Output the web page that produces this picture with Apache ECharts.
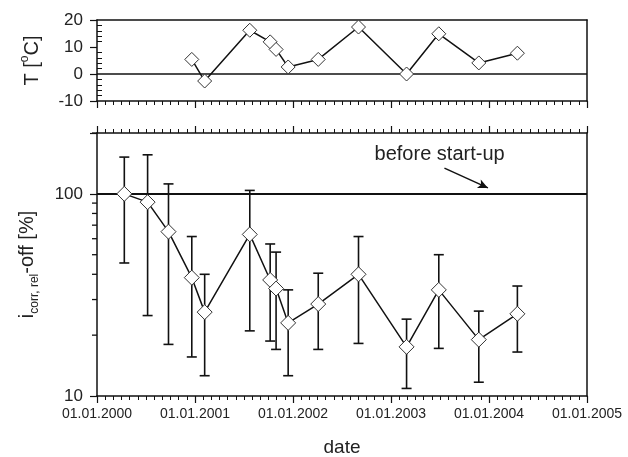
<!DOCTYPE html>
<html><head><meta charset="utf-8">
<script src="https://cdn.jsdelivr.net/npm/echarts@6/dist/echarts.min.js"></script>
<style>html,body{margin:0;padding:0;background:#fff}#c{width:628px;height:457px}</style>
</head><body><div id="c"></div>
<script>
// ---- data ----
const dates = ['2000-04-12','2000-07-08','2000-09-24','2000-12-20','2001-02-06','2001-07-24','2001-10-08','2001-10-30','2001-12-14','2002-04-05','2002-09-02','2003-02-28','2003-06-28','2003-11-24','2004-04-16'];
const icorr     = [100, 91, 65, 38.5, 26, 63, 37.5, 34, 23, 28.5, 40, 17.5, 33.5, 19, 25.5];
const icorrHigh = [152, 156, 112, 61.5, 40, 104, 56.5, 51.5, 33.5, 40.5, 61.5, 24, 50, 26.3, 35];
const icorrLow  = [45.5, 25, 18, 15.6, 12.6, 21, 18.7, 17, 12.6, 17, 18.2, 10.9, 17.2, 11.7, 16.5];
const tempDates = ['2000-12-20','2001-02-06','2001-07-24','2001-10-08','2001-10-30','2001-12-14','2002-04-05','2002-09-02','2003-02-28','2003-06-28','2003-11-24','2004-04-16'];
const temps     = [5.4, -2.6, 16.2, 11.9, 9.1, 2.6, 5.4, 17.4, 0, 14.9, 4.1, 7.7];
const yearTicks = [2000, 2001, 2002, 2003, 2004, 2005];
const tTicks = [-10, 0, 10, 20];
const iTicksMajor = [10, 100];
const iTicksMinor = [20, 30, 40, 50, 60, 70, 80, 90, 200];
const referenceLevel = 100;
const noteText = 'before start-up';
const noteAt = ['2003-07-01', 156];
const arrowFrom = ['2003-07-19', 134];
const arrowTo = ['2003-12-28', 107];

function decYear(s){
  const [y,m,d] = s.split('-').map(Number);
  const t0 = Date.UTC(y,0,1), t1 = Date.UTC(y+1,0,1);
  return y + (Date.UTC(y,m-1,d) - t0) / (t1 - t0);
}

const INK = '#111';
const FONT = 'Liberation Sans, Arial, sans-serif';
const chart = echarts.init(document.getElementById('c'), null, {renderer:'canvas'});

const xMin = yearTicks[0], xMax = yearTicks[yearTicks.length-1];
const iMin = 10, iMax = 200;
const lineAx = {show:true, onZero:false, lineStyle:{color:INK, width:1.5}};

const xBase = (grid, pos) => ({
  gridIndex: grid, type:'value', position: pos, min:xMin, max:xMax, interval:1,
  axisLine: lineAx, splitLine:{show:false}, axisLabel:{show:false},
  axisTick:{show:false}, minorTick:{show:false}
});

const option = {
  animation:false,
  backgroundColor:'#fff',
  textStyle:{fontFamily:FONT},
  grid:[
    {left:97, right:41, top:20, height:81, outerBoundsMode:'none'},
    {left:97, right:41, top:133, height:263, outerBoundsMode:'none'}
  ],
  xAxis:[
    Object.assign(xBase(0,'bottom'), {
      axisTick:{show:true, length:7, lineStyle:{color:INK, width:1.2}},
      minorTick:{show:true, splitNumber:12, length:4, lineStyle:{color:INK, width:1}}
    }),
    xBase(0,'top'),
    Object.assign(xBase(1,'bottom'), {
      axisTick:{show:true, length:7, lineStyle:{color:INK, width:1.2}},
      minorTick:{show:true, splitNumber:12, length:4, lineStyle:{color:INK, width:1}},
      axisLabel:{show:true, margin:11, fontSize:14, color:'#222', fontFamily:FONT,
        formatter: v => '01.01.' + v},
      name:'date', nameLocation:'middle', nameGap:42,
      nameTextStyle:{fontSize:19, color:'#222', fontFamily:FONT}
    }),
    Object.assign(xBase(1,'top'), {
      axisTick:{show:true, length:7, lineStyle:{color:INK, width:1.2}},
      minorTick:{show:true, splitNumber:12, length:4, lineStyle:{color:INK, width:1}}
    })
  ],
  yAxis:[
    {gridIndex:0, type:'value', position:'left', min:tTicks[0], max:tTicks[tTicks.length-1], interval:10,
      axisLine:lineAx, splitLine:{show:false},
      axisTick:{show:true, length:7, lineStyle:{color:INK, width:1.2}},
      axisLabel:{show:true, margin:14, fontSize:17, color:'#222', fontFamily:FONT},
      name:'{n|T [}{sup|o}{n|C]}', nameLocation:'middle', nameGap:52,
      nameTextStyle:{rich:{
        n:{fontSize:20, color:'#222', fontFamily:FONT, lineHeight:26},
        sup:{fontSize:12, color:'#222', fontFamily:FONT, verticalAlign:'top', lineHeight:26}
      }}
    },
    {gridIndex:0, type:'value', position:'left', min:tTicks[0], max:tTicks[tTicks.length-1], interval:10,
      axisLine:{show:false}, splitLine:{show:false}, axisLabel:{show:false},
      axisTick:{show:false, inside:true},
      minorTick:{show:true, splitNumber:5, length:5, lineStyle:{color:INK, width:1}}
    },
    {gridIndex:0, type:'value', position:'right', min:tTicks[0], max:tTicks[tTicks.length-1],
      axisLine:lineAx, splitLine:{show:false}, axisLabel:{show:false}, axisTick:{show:false}},
    {gridIndex:1, type:'log', logBase:10, position:'left', min:iMin, max:iMax,
      axisLine:lineAx, splitLine:{show:false},
      axisTick:{show:true, length:7, lineStyle:{color:INK, width:1.2}},
      axisLabel:{show:true, margin:14, fontSize:17, color:'#222', fontFamily:FONT,
        formatter: v => (iTicksMajor.indexOf(Math.round(v)) >= 0 ? String(Math.round(v)) : '')},
      name:'{n|i}{sub|corr, rel}{n|-off [%]}', nameLocation:'middle', nameGap:56,
      nameTextStyle:{rich:{
        n:{fontSize:20, color:'#222', fontFamily:FONT, lineHeight:28},
        sub:{fontSize:12, color:'#222', fontFamily:FONT, verticalAlign:'bottom', lineHeight:28}
      }}
    },
    {gridIndex:1, type:'log', logBase:10, position:'right', min:iMin, max:iMax,
      axisLine:lineAx, splitLine:{show:false}, axisLabel:{show:false}, axisTick:{show:false}}
  ],
  series:[
    {
      type:'line', xAxisIndex:0, yAxisIndex:0, z:5,
      data: tempDates.map((d,i) => [decYear(d), temps[i]]),
      symbol:'diamond', symbolSize:14,
      itemStyle:{color:'#fff', borderColor:'#333', borderWidth:1},
      lineStyle:{color:INK, width:1.5},
      markLine:{silent:true, symbol:['none','none'], label:{show:false},
        lineStyle:{color:INK, width:1.5, type:'solid'}, data:[{yAxis:0}]}
    },
    {
      type:'custom', xAxisIndex:2, yAxisIndex:3, z:3,
      data: dates.map((d,i) => [decYear(d), icorrLow[i], icorrHigh[i]]),
      renderItem:(params, api) => {
        const x = api.value(0);
        const lo = api.coord([x, api.value(1)]);
        const hi = api.coord([x, api.value(2)]);
        const w = 5;
        const st = {stroke:INK, lineWidth:1.6};
        return {type:'group', children:[
          {type:'line', shape:{x1:lo[0], y1:lo[1], x2:hi[0], y2:hi[1]}, style:st},
          {type:'line', shape:{x1:lo[0]-w, y1:lo[1], x2:lo[0]+w, y2:lo[1]}, style:st},
          {type:'line', shape:{x1:hi[0]-w, y1:hi[1], x2:hi[0]+w, y2:hi[1]}, style:st}
        ]};
      }
    },
    {
      type:'line', xAxisIndex:2, yAxisIndex:3, z:5,
      data: dates.map((d,i) => [decYear(d), icorr[i]]),
      symbol:'diamond', symbolSize:15,
      itemStyle:{color:'#fff', borderColor:'#333', borderWidth:1},
      lineStyle:{color:INK, width:1.5},
      markLine:{silent:true, symbol:['none','none'], label:{show:false},
        data:[
          {yAxis:referenceLevel, lineStyle:{color:INK, width:2, type:'solid'}},
          [
            {coord:[decYear(arrowFrom[0]), arrowFrom[1]], symbol:'none'},
            {coord:[decYear(arrowTo[0]), arrowTo[1]], symbol:'arrow', symbolSize:[7,10],
              lineStyle:{color:INK, width:1.5, type:'solid'}}
          ]
        ],
        lineStyle:{color:INK, width:1.5, type:'solid'}
      },
      markPoint:{silent:true, symbol:'rect', symbolSize:1, itemStyle:{color:'rgba(0,0,0,0)'},
        label:{show:true, position:'inside', formatter:noteText, fontSize:20, color:'#222', fontFamily:FONT},
        data:[{coord:[decYear(noteAt[0]), noteAt[1]]}]
      }
    }
  ]
};
chart.setOption(option);

// minor ticks of the logarithmic axis, positioned through the log axis itself
const axisX = chart.convertToPixel({xAxisIndex:2}, xMin);
chart.setOption({
  graphic: iTicksMinor.map(v => {
    const y = chart.convertToPixel({yAxisIndex:3}, v);
    return {type:'line', silent:true, z:100,
      shape:{x1:axisX-5, y1:y, x2:axisX, y2:y},
      style:{stroke:INK, lineWidth:1.3}};
  })
});
</script></body></html>
